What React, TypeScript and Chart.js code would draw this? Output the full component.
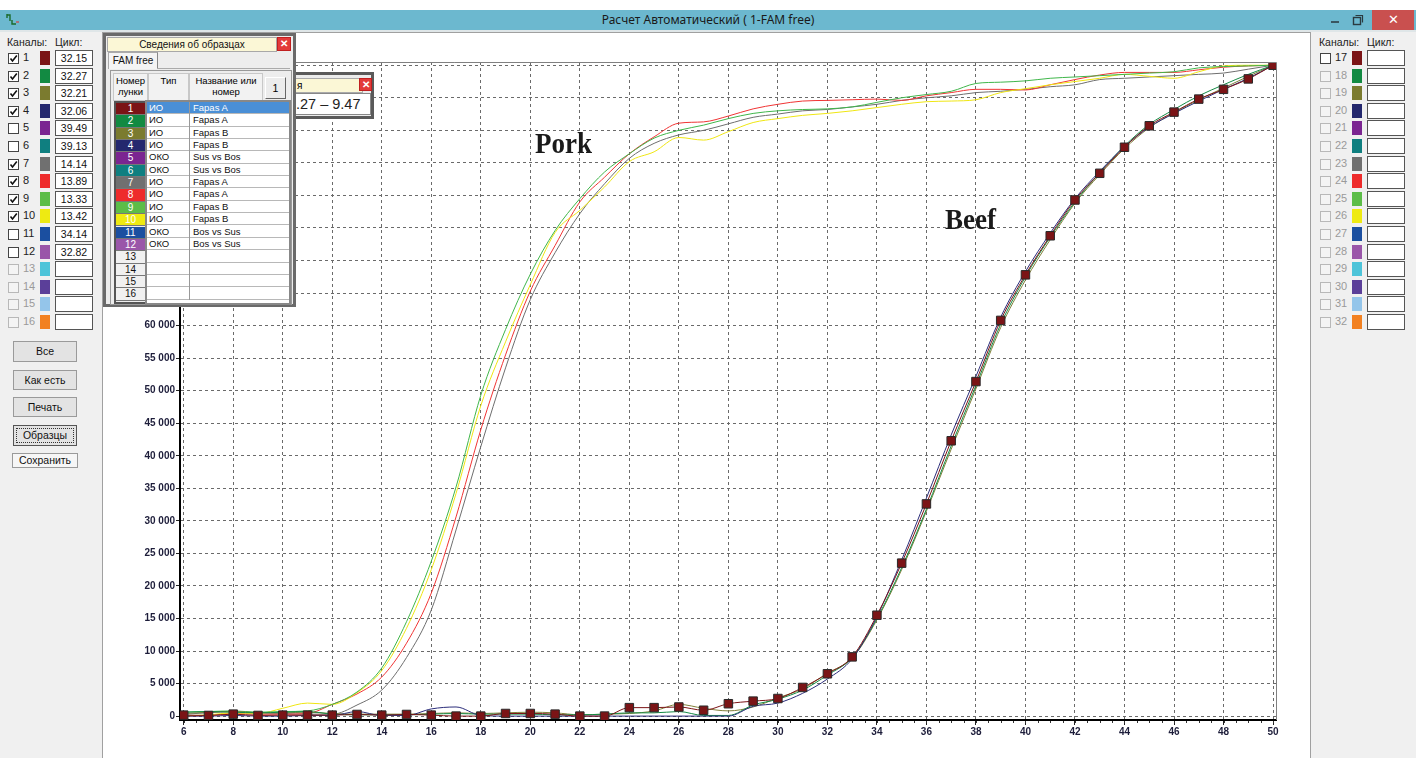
import React, { useEffect, useRef } from 'react';
import { Chart, registerables } from 'chart.js';
Chart.register(...registerables);

// ---------------- DATA ----------------
const cycles = [6, 7, 8, 9, 10, 11, 12, 13, 14, 15, 16, 17, 18, 19, 20, 21, 22, 23, 24, 25, 26, 27, 28, 29, 30, 31, 32, 33, 34, 35, 36, 37, 38, 39, 40, 41, 42, 43, 44, 45, 46, 47, 48, 49, 50];

const pork7Gray = [300, 500, 700, 500, 400, 300, 300, 1700, 4000, 9000,
  16300, 28600, 41400, 53500, 64000, 71200, 77200, 81800, 85700, 88000,
  89300, 90000, 91000, 92000, 92500, 93000, 93200, 93600, 94000, 94600,
  95000, 95300, 95800, 96000, 96300, 96700, 97000, 97800, 98000, 98200,
  98400, 98600, 98800, 99400, 100000];
const pork8Red = [0, 100, 400, 300, 300, 400, 1800, 3400, 6000, 11200,
  18900, 30600, 44000, 55500, 65300, 72300, 79000, 82800, 86400, 89000,
  91100, 91300, 92200, 93300, 94000, 94500, 94600, 94700, 94800, 94600,
  95300, 95800, 96300, 96300, 96200, 97000, 97800, 98500, 98900, 98900,
  98900, 99300, 99700, 99900, 100000];
const pork9Green = [600, 700, 800, 600, 700, 800, 1800, 3700, 7400, 14500,
  23800, 35200, 49300, 59400, 67900, 74600, 79500, 83600, 86400, 88800,
  90000, 90800, 91800, 92600, 93000, 93200, 93300, 93600, 94300, 95000,
  95500, 96000, 97200, 97400, 97600, 98000, 98200, 98400, 98600, 98800,
  99000, 99600, 99800, 99900, 100000];
const pork10Yellow = [0, 200, 500, 400, 1200, 2000, 1800, 3600, 7000, 13500,
  22500, 34200, 47700, 57500, 66300, 74300, 77700, 81300, 85200, 86700,
  88900, 88500, 89800, 91200, 91800, 92300, 92600, 93000, 93500, 94000,
  94400, 94500, 94700, 95800, 96400, 97000, 97500, 98000, 98600, 98300,
  98000, 99000, 99900, 100000, 100000];

const beef1DarkRed = [150, 100, 300, 100, 150, 150, 150, 250, 150, 250,
  150, 0, 0, 400, 400, 300, 0, 0, 1300, 1300,
  1400, 900, 1900, 2300, 2700, 4400, 6500, 9100, 15500, 23500,
  32600, 42300, 51400, 60800, 67800, 73800, 79300, 83400, 87400, 90700,
  92800, 94800, 96300, 97900, 100000];
const beef2Green = [600, 700, 600, 500, 600, 700, 300, 200, 200, 200,
  300, 400, 300, 300, 300, 200, 200, 300, 500, 500,
  700, 100, 100, 1700, 2600, 4000, 6300, 9000, 15000, 22800,
  31800, 41500, 50800, 60200, 67500, 73600, 79000, 83500, 87600, 90900,
  93200, 95300, 97000, 98600, 100000];
const beef3Olive = [400, 600, 700, 500, 500, 600, 400, 300, 300, 300,
  400, 500, 400, 500, 600, 500, 200, 300, 400, 800,
  1800, 1200, 800, 1400, 2800, 4200, 6600, 8900, 14800, 22500,
  31500, 41000, 50300, 59700, 67000, 73200, 78800, 83200, 87200, 90400,
  92700, 94700, 96500, 98300, 100000];
const beef4Navy = [0, 0, 100, 0, 0, 100, 100, 700, 100, 100,
  1100, 1400, 100, 0, 0, 0, 0, 0, 0, 0,
  0, 0, 0, 1500, 2000, 3500, 5700, 8800, 15300, 24000,
  33500, 43200, 52200, 61300, 68300, 74200, 79500, 83700, 87500, 90500,
  92600, 94500, 96300, 98000, 100000];

const xTickValues = [6, 8, 10, 12, 14, 16, 18, 20, 22, 24, 26, 28, 30, 32, 34, 36, 38, 40, 42, 44, 46, 48, 50];
const yTickValues = [0, 5000, 10000, 15000, 20000, 25000, 30000, 35000, 40000, 45000, 50000, 55000, 60000, 65000, 70000, 75000, 80000, 85000, 90000, 95000, 100000];

const channelColors = ['#7b1416', '#128a42', '#7b7b2f', '#24286e', '#7b2591', '#0f7f80', '#707070', '#ee2b2b', '#5cbd48', '#eeea12', '#1b4fa0', '#9a56a9', '#4dc4d9', '#5b3f99', '#94c5ea', '#f28121'];
const leftNumbers = [1, 2, 3, 4, 5, 6, 7, 8, 9, 10, 11, 12, 13, 14, 15, 16];
const rightNumbers = [17, 18, 19, 20, 21, 22, 23, 24, 25, 26, 27, 28, 29, 30, 31, 32];
const leftCycles = ['32.15', '32.27', '32.21', '32.06', '39.49', '39.13', '14.14', '13.89', '13.33', '13.42', '34.14', '32.82', '', '', '', ''];
const leftChecked = [true, true, true, true, false, false, true, true, true, true, false, false, false, false, false, false];
const sampleTypes = ['ИО', 'ИО', 'ИО', 'ИО', 'ОКО', 'ОКО', 'ИО', 'ИО', 'ИО', 'ИО', 'ОКО', 'ОКО', '', '', '', ''];
const sampleNames = ['Fapas A', 'Fapas A', 'Fapas B', 'Fapas B', 'Sus vs Bos', 'Sus vs Bos', 'Fapas A', 'Fapas A', 'Fapas B', 'Fapas B', 'Bos vs Sus', 'Bos vs Sus', '', '', '', ''];

// ---------------- UI ----------------
const UI = '"Liberation Sans", Arial, sans-serif';

function CheckBox({ checked, enabled, x, y }: any) {
  return (
    <div style={{ position: 'absolute', left: x, top: y, width: 9, height: 9, background: enabled ? '#fff' : '#f4f4f4', border: `1px solid ${enabled ? '#444' : '#b8b8b8'}` }}>
      {checked && (
        <svg width="9" height="9" style={{ position: 'absolute', left: 0, top: 0 }}>
          <polyline points="1.5,4.5 3.5,7 7.8,1.5" fill="none" stroke="#111" strokeWidth="1.6" />
        </svg>
      )}
    </div>
  );
}

function ChannelPanel({ numbers, left, cyclesText, checked, enabledCount }: any) {
  return (
    <div style={{ position: 'absolute', left, top: 0 }}>
      <div style={{ position: 'absolute', left: 7, top: 36, fontSize: 10.5, color: '#222', whiteSpace: 'nowrap' }}>Каналы:</div>
      <div style={{ position: 'absolute', left: 55, top: 36, fontSize: 10.5, color: '#222', whiteSpace: 'nowrap' }}>Цикл:</div>
      {numbers.map((n: number, i: number) => {
        const cy = 58 + 17.6 * i;
        const enabled = i < enabledCount;
        return (
          <React.Fragment key={n}>
            <CheckBox checked={checked[i]} enabled={enabled} x={8} y={cy - 5} />
            <div style={{ position: 'absolute', left: 23, top: cy - 7, fontSize: 11, color: enabled ? '#222' : '#9a9a9a' }}>{n}</div>
            <div style={{ position: 'absolute', left: 40, top: cy - 7, width: 10, height: 14, background: channelColors[i] }} />
            <div style={{ position: 'absolute', left: 55, top: cy - 8, width: 36, height: 14, background: '#fff', border: '1px solid #555', fontSize: 10.5, textAlign: 'center', lineHeight: '14px', color: '#111' }}>{cyclesText[i]}</div>
          </React.Fragment>
        );
      })}
    </div>
  );
}

function Btn({ x, y, w, h, label, focus, flat }: any) {
  return (
    <div style={{ position: 'absolute', left: x, top: y, width: w, height: h, boxSizing: 'border-box', background: flat ? '#f6f6f6' : '#e3e3e3', border: focus ? '1px solid #555' : '1px solid #9a9a9a', fontSize: 10.5, color: '#111', textAlign: 'center', lineHeight: `${h - 2}px` }}>
      {focus && <div style={{ position: 'absolute', left: 2, top: 2, right: 2, bottom: 2, border: '1px dotted #333' }} />}
      {label}
    </div>
  );
}

function SamplesDialog() {
  const rowH = 12.35;
  return (
    <>
      {/* second dialog behind */}
      <div style={{ position: 'absolute', left: 286, top: 72, width: 88, height: 47, boxSizing: 'border-box', background: '#ececec', border: '3px solid #5a5a5a' }}>
        <div style={{ position: 'absolute', left: 4, top: 3, width: 65, height: 13, background: '#fbf7d6', border: '1px solid #aaa', fontSize: 10, lineHeight: '13px', paddingLeft: 3 }}>я</div>
        <div style={{ position: 'absolute', left: 70, top: 3, width: 11, height: 11, background: '#e33a3a', border: '1px solid #c02020', color: '#fff', fontSize: 10, lineHeight: '11px', textAlign: 'center', fontWeight: 'bold' }}>✕</div>
        <div style={{ position: 'absolute', left: 6, top: 18, width: 74, height: 20, background: '#fff', border: '1px solid #888', fontSize: 14.5, lineHeight: '20px', color: '#222', whiteSpace: 'nowrap', overflow: 'hidden' }}>.27 – 9.47</div>
      </div>
      {/* main dialog */}
      <div style={{ position: 'absolute', left: 103, top: 33, width: 193, height: 274, boxSizing: 'border-box', background: '#ededed', border: '3px solid #6a6a6a' }}>
        <div style={{ position: 'absolute', left: 1, top: 1, width: 168, height: 13, background: '#fbf7d6', border: '1px solid #a8a8a8', fontSize: 10, lineHeight: '13px', textAlign: 'center', color: '#111' }}>Сведения об образцах</div>
        <div style={{ position: 'absolute', left: 171, top: 1, width: 12, height: 12, background: '#e33a3a', border: '1px solid #c02020', color: '#fff', fontSize: 10, lineHeight: '12px', textAlign: 'center', fontWeight: 'bold' }}>✕</div>
        <div style={{ position: 'absolute', left: 2, top: 16, width: 48, height: 16, background: '#f4f4f4', borderLeft: '1px solid #aaa', borderTop: '1px solid #aaa', borderRight: '1px solid #888', fontSize: 10, lineHeight: '16px', textAlign: 'center', color: '#111' }}>FAM free</div>
        <div style={{ position: 'absolute', left: 51, top: 32, width: 133, height: 1, background: '#aaa' }} />
        <div style={{ position: 'absolute', left: 4, top: 34, width: 180, height: 233, border: '1px solid #999', background: '#ededed' }}>
          <div style={{ position: 'absolute', left: 2, top: 2, width: 33, height: 25, background: '#f2f2f2', border: '1px solid #c8c8c8', fontSize: 9.5, lineHeight: '11px', textAlign: 'center', paddingTop: 1 }}>Номер<br />лунки</div>
          <div style={{ position: 'absolute', left: 37, top: 2, width: 39, height: 25, background: '#f2f2f2', border: '1px solid #c8c8c8', fontSize: 9.5, lineHeight: '11px', textAlign: 'center', paddingTop: 1 }}>Тип</div>
          <div style={{ position: 'absolute', left: 78, top: 2, width: 72, height: 25, background: '#f2f2f2', border: '1px solid #c8c8c8', fontSize: 9.5, lineHeight: '11px', textAlign: 'center', paddingTop: 1 }}>Название или<br />номер</div>
          <div style={{ position: 'absolute', left: 154, top: 6, width: 19, height: 20, background: '#ececec', borderTop: '1px solid #fff', borderLeft: '1px solid #fff', borderRight: '1px solid #666', borderBottom: '1px solid #666', fontSize: 10.5, lineHeight: '20px', textAlign: 'center' }}>1</div>
          {/* number column */}
          <div style={{ position: 'absolute', left: 3, top: 30, width: 29, height: 16 * rowH + 1, border: '2px solid #555', background: '#eee' }}>
            {leftNumbers.map((n, i) => (
              <div key={n} style={{ position: 'absolute', left: 0, top: i * rowH, width: 29, height: rowH - 1, background: i < 12 ? channelColors[i] : '#f0f0f0', borderBottom: '1px solid #777', color: i < 12 ? '#fff' : '#111', fontSize: 10, lineHeight: `${rowH - 1}px`, textAlign: 'center' }}>{n}</div>
            ))}
          </div>
          {/* body */}
          <div style={{ position: 'absolute', left: 34, top: 29, width: 142, height: 16 * rowH + 3, border: '2px solid #888', background: '#fff' }}>
            {leftNumbers.map((n, i) => (
              <div key={n} style={{ position: 'absolute', left: 0, top: i * rowH, width: 142, height: rowH - 1, borderBottom: '1px solid #b8b8b8', background: i === 0 ? '#4a8fd6' : '#fff', color: i === 0 ? '#fff' : '#111', fontSize: 9.5, lineHeight: `${rowH}px` }}>
                <span style={{ position: 'absolute', left: 2 }}>{sampleTypes[i]}</span>
                <span style={{ position: 'absolute', left: 46 }}>{sampleNames[i]}</span>
              </div>
            ))}
            <div style={{ position: 'absolute', left: 42, top: 0, width: 1, height: 16 * rowH, background: '#999' }} />
          </div>
        </div>
      </div>
    </>
  );
}

function fmt(v: number) {
  return String(v).replace(/\B(?=(\d{3})+(?!\d))/g, ' ');
}

const framePlugin = {
  id: 'frame',
  afterDraw(chart: any) {
    const { ctx, chartArea: a, scales } = chart;
    const x = scales.x;
    ctx.save();
    ctx.strokeStyle = '#808080';
    ctx.lineWidth = 1;
    ctx.beginPath();
    ctx.moveTo(a.left, a.top + 0.5);
    ctx.lineTo(a.right + 0.5, a.top + 0.5);
    ctx.lineTo(a.right + 0.5, a.bottom);
    ctx.stroke();
    ctx.strokeStyle = '#333';
    ctx.beginPath();
    for (let i = 0; i < cycles.length; i++) {
      for (const off of [0, 0.5]) {
        const px = Math.round(x.getPixelForValue(cycles[i] + off)) + 0.5;
        if (px > a.right) continue;
        ctx.moveTo(px, a.bottom + 1);
        ctx.lineTo(px, a.bottom + 3);
      }
    }
    ctx.stroke();
    ctx.restore();
  },
};

function PcrChart() {
  const ref = useRef<HTMLCanvasElement>(null);
  useEffect(() => {
    const c = ref.current!;
    const mk = (label: string, data: number[], color: string, extra: any = {}) => ({
      label,
      data: cycles.map((cx, i) => ({ x: cx, y: data[i] })),
      borderColor: color,
      backgroundColor: color,
      borderWidth: 1,
      pointRadius: 0,
      cubicInterpolationMode: 'monotone',
      ...extra,
    });
    const tickFont = { family: '"Liberation Sans", Arial, sans-serif', size: 10, weight: 'bold' as const };
    const chart = new Chart(c, {
      type: 'line',
      data: {
        datasets: [
          mk('1', beef1DarkRed, '#7b1416', { pointRadius: 6, pointStyle: 'rect', pointBackgroundColor: '#7b1416', pointBorderColor: '#2a2a2a', pointBorderWidth: 1 }),
          mk('4', beef4Navy, '#2b2d7a'),
          mk('2', beef2Green, '#148a44'),
          mk('3', beef3Olive, '#80803a'),
          mk('9', pork9Green, '#3fb64a'),
          mk('10', pork10Yellow, '#efe612'),
          mk('8', pork8Red, '#f03434'),
          mk('7', pork7Gray, '#6e6e6e'),
        ] as any,
      },
      options: {
        animation: false,
        responsive: false,
        maintainAspectRatio: false,
        layout: { padding: { top: 30, right: 34, left: 0, bottom: 0 } },
        plugins: { legend: { display: false }, tooltip: { enabled: false } },
        scales: {
          x: {
            type: 'linear',
            min: 5.85,
            max: 50.12,
            afterBuildTicks: (s: any) => { s.ticks = xTickValues.map((v) => ({ value: v })); },
            afterFit: (s: any) => { s.height = 38; },
            grid: { color: '#6a6a6a', lineWidth: 1, drawTicks: true, tickLength: 5, tickColor: '#222', tickBorderDash: [] },
            border: { display: true, color: '#000', width: 2, dash: [3, 3] },
            ticks: { font: tickFont, color: '#1d1d3a', padding: 1, maxRotation: 0, autoSkip: false, callback: (v: any) => String(v) },
          },
          y: {
            type: 'linear',
            min: -600,
            max: 100500,
            afterBuildTicks: (s: any) => { s.ticks = yTickValues.map((v) => ({ value: v })); },
            afterFit: (s: any) => { s.width = 75; },
            grid: { color: '#6a6a6a', lineWidth: 1, drawTicks: true, tickLength: 4, tickColor: '#222', tickBorderDash: [] },
            border: { display: true, color: '#000', width: 2, dash: [3, 3] },
            ticks: { font: tickFont, color: '#1d1d3a', padding: 1, autoSkip: false, callback: (v: any) => fmt(Number(v)) },
          },
        },
      } as any,
      plugins: [framePlugin],
    });
    return () => chart.destroy();
  }, []);
  return <canvas ref={ref} width={1205} height={726} style={{ position: 'absolute', left: 105, top: 32, width: 1205, height: 726 }} />;
}

export default function App() {
  return (
    <div style={{ position: 'absolute', left: 0, top: 0, width: 1416, height: 758, overflow: 'hidden', background: '#fff', fontFamily: UI }}>
      {/* title bar */}
      <div style={{ position: 'absolute', left: 0, top: 10, width: 1416, height: 20, background: '#6cb8cf' }}>
        <svg width="16" height="14" style={{ position: 'absolute', left: 6, top: 2 }}>
          <path d="M1 2 L1 6 M1 3 L4 3 L4 9 M6 8 L6 12 L10 12" stroke="#1a6a2a" strokeWidth="1.4" fill="none" />
          <path d="M10 10 L13 10" stroke="#d04040" strokeWidth="1.2" />
        </svg>
        <div style={{ position: 'absolute', left: 0, top: 0, width: 1416, textAlign: 'center', fontFamily: '"Noto Sans", sans-serif', fontSize: 12, lineHeight: '20px', color: '#1a1a1a' }}>Расчет Автоматический ( 1-FAM free)</div>
        <div style={{ position: 'absolute', left: 1331, top: 11, width: 8, height: 2, background: '#3a5560' }} />
        <svg width="12" height="12" style={{ position: 'absolute', left: 1352, top: 4 }}>
          <rect x="1.5" y="3.5" width="7" height="7" fill="none" stroke="#2a3a40" strokeWidth="1.4" />
          <path d="M3.5 1.5 H10.5 V8.5" fill="none" stroke="#2a3a40" strokeWidth="1.2" />
        </svg>
        <div style={{ position: 'absolute', left: 1372, top: 0, width: 42, height: 20, background: '#c9504f', color: '#fff', fontSize: 13, lineHeight: '20px', textAlign: 'center' }}>✕</div>
      </div>
      <div style={{ position: 'absolute', left: 0, top: 30, width: 1416, height: 2, background: '#dfe6e8' }} />
      {/* left panel */}
      <div style={{ position: 'absolute', left: 0, top: 32, width: 102, height: 726, background: '#f0f0f0', borderRight: '1px solid #a0a0a0' }} />
      <ChannelPanel numbers={leftNumbers} left={0} cyclesText={leftCycles} checked={leftChecked} enabledCount={12} />
      <Btn x={13} y={341} w={64} h={21} label="Все" />
      <Btn x={13} y={370} w={64} h={20} label="Как есть" />
      <Btn x={13} y={397} w={64} h={20} label="Печать" />
      <Btn x={13} y={425} w={64} h={21} label="Образцы" focus />
      <Btn x={12} y={453} w={66} h={15} label="Сохранить" flat />
      {/* right panel */}
      <div style={{ position: 'absolute', left: 1310, top: 32, width: 106, height: 726, background: '#f0f0f0', borderLeft: '1px solid #a0a0a0' }} />
      <ChannelPanel numbers={rightNumbers} left={1312} cyclesText={['', '', '', '', '', '', '', '', '', '', '', '', '', '', '', '']} checked={[false, false, false, false, false, false, false, false, false, false, false, false, false, false, false, false]} enabledCount={1} />
      {/* chart */}
      <div style={{ position: 'absolute', left: 103, top: 32, width: 1207, height: 1, background: '#a0a0a0' }} />
      <PcrChart />
      <div style={{ position: 'absolute', left: 535, top: 128, fontFamily: '"Liberation Serif", serif', fontWeight: 'bold', fontSize: 30, lineHeight: '30px', color: '#1a1a1a', transform: 'scaleX(0.9)', transformOrigin: 'left top' }}>Pork</div>
      <div style={{ position: 'absolute', left: 945, top: 204, fontFamily: '"Liberation Serif", serif', fontWeight: 'bold', fontSize: 30, lineHeight: '30px', color: '#1a1a1a', transform: 'scaleX(0.9)', transformOrigin: 'left top' }}>Beef</div>
      <SamplesDialog />
    </div>
  );
}
